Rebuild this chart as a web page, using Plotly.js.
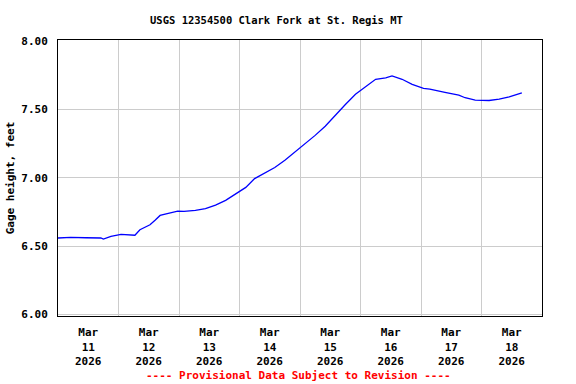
<!DOCTYPE html>
<html>
<head>
<meta charset="utf-8">
<script src="https://cdn.plot.ly/plotly-3.0.1.min.js"></script>
<style>html,body{margin:0;padding:0;background:#fff;}#chart{width:576px;height:384px;}</style>
</head>
<body>
<div id="chart"></div>
<script>
// Gage height readings (feet)
const times = [
  '2026-03-11 00:00','2026-03-11 05:00','2026-03-11 11:00','2026-03-11 17:00','2026-03-11 18:00',
  '2026-03-11 21:00','2026-03-12 01:00','2026-03-12 06:30','2026-03-12 08:30','2026-03-12 12:30',
  '2026-03-12 14:30','2026-03-12 16:30','2026-03-12 18:30','2026-03-12 23:30','2026-03-13 02:00',
  '2026-03-13 06:30','2026-03-13 10:30','2026-03-13 14:30','2026-03-13 18:30','2026-03-13 22:30',
  '2026-03-14 02:30','2026-03-14 06:00','2026-03-14 10:00','2026-03-14 14:00','2026-03-14 18:00',
  '2026-03-14 22:00','2026-03-15 02:00','2026-03-15 06:00','2026-03-15 10:00','2026-03-15 14:00',
  '2026-03-15 18:00','2026-03-15 22:00','2026-03-16 02:00','2026-03-16 06:00','2026-03-16 10:00',
  '2026-03-16 12:30','2026-03-16 16:30','2026-03-16 20:30','2026-03-17 01:00','2026-03-17 03:30',
  '2026-03-17 09:30','2026-03-17 15:00','2026-03-17 17:30','2026-03-17 21:30','2026-03-18 03:00',
  '2026-03-18 07:00','2026-03-18 11:00','2026-03-18 16:00'
];
const gageHeight = [
  6.560, 6.565, 6.562, 6.560, 6.552,
  6.572, 6.586, 6.580, 6.620, 6.657,
  6.690, 6.725, 6.735, 6.757, 6.755,
  6.762, 6.774, 6.800, 6.835, 6.884,
  6.930, 6.994, 7.035, 7.075, 7.128,
  7.190, 7.245, 7.310, 7.377, 7.458,
  7.536, 7.610, 7.665, 7.720, 7.731,
  7.744, 7.720, 7.683, 7.653, 7.648,
  7.624, 7.604, 7.585, 7.568, 7.565,
  7.575, 7.592, 7.621
];
const tickDates = ['2026-03-11 12:00','2026-03-12 12:00','2026-03-13 12:00','2026-03-14 12:00',
                   '2026-03-15 12:00','2026-03-16 12:00','2026-03-17 12:00','2026-03-18 12:00'];
const tickLabels = ['Mar<br>11<br>2026','Mar<br>12<br>2026','Mar<br>13<br>2026','Mar<br>14<br>2026',
                    'Mar<br>15<br>2026','Mar<br>16<br>2026','Mar<br>17<br>2026','Mar<br>18<br>2026'];
const yTicks = [6.0, 6.5, 7.0, 7.5, 8.0];

const FONT = 'DejaVu Sans Mono, Liberation Mono, monospace';

Plotly.newPlot('chart', [{
  x: times, y: gageHeight, type: 'scatter', mode: 'lines',
  line: {color: '#0000ff', width: 1.3}, hoverinfo: 'skip'
}], {
  width: 576, height: 384,
  margin: {l: 58, r: 34, t: 40, b: 68},
  paper_bgcolor: '#fff', plot_bgcolor: '#fff',
  showlegend: false,
  font: {family: FONT, size: 11, color: '#000', weight: 'bold'},
  title: {text: 'USGS 12354500 Clark Fork at St. Regis MT', x: 0.48, xref: 'container', xanchor: 'center',
          y: 0.948, yref: 'container', yanchor: 'middle',
          font: {family: FONT, size: 10.5, color: '#000', weight: 'bold'}},
  xaxis: {
    type: 'date', range: ['2026-03-11 00:00', '2026-03-19 00:00'],
    tickmode: 'array', tickvals: tickDates, ticktext: tickLabels,
    showgrid: false, ticks: '', ticklabelstandoff: 6,
    minor: {tickmode: 'linear', tick0: '2026-03-11 00:00', dtick: 86400000, showgrid: true, gridcolor: '#cccccc', gridwidth: 1, ticks: ''},
    showline: true, linecolor: '#000', linewidth: 1, mirror: true, zeroline: false,
    tickfont: {family: FONT, size: 11, color: '#000', weight: 'bold'}
  },
  yaxis: {
    range: [5.99, 8.007], tickmode: 'array', tickvals: yTicks, tickformat: '.2f',
    showgrid: true, gridcolor: '#cccccc', gridwidth: 1, ticks: '', ticklabelstandoff: 7,
    showline: true, linecolor: '#000', linewidth: 1, mirror: true, zeroline: false,
    tickfont: {family: FONT, size: 11, color: '#000', weight: 'bold'},
    title: {text: 'Gage height, feet', standoff: 4, font: {family: FONT, size: 11, color: '#000', weight: 'bold'}}
  },
  annotations: [{
    text: '---- Provisional Data Subject to Revision ----', xref: 'paper', yref: 'paper',
    x: 0.496, y: -0.214, xanchor: 'center', yanchor: 'middle', showarrow: false,
    font: {family: FONT, size: 11, color: '#ff0000', weight: 'bold'}
  }]
}, {staticPlot: true, displayModeBar: false});
</script>
</body>
</html>
